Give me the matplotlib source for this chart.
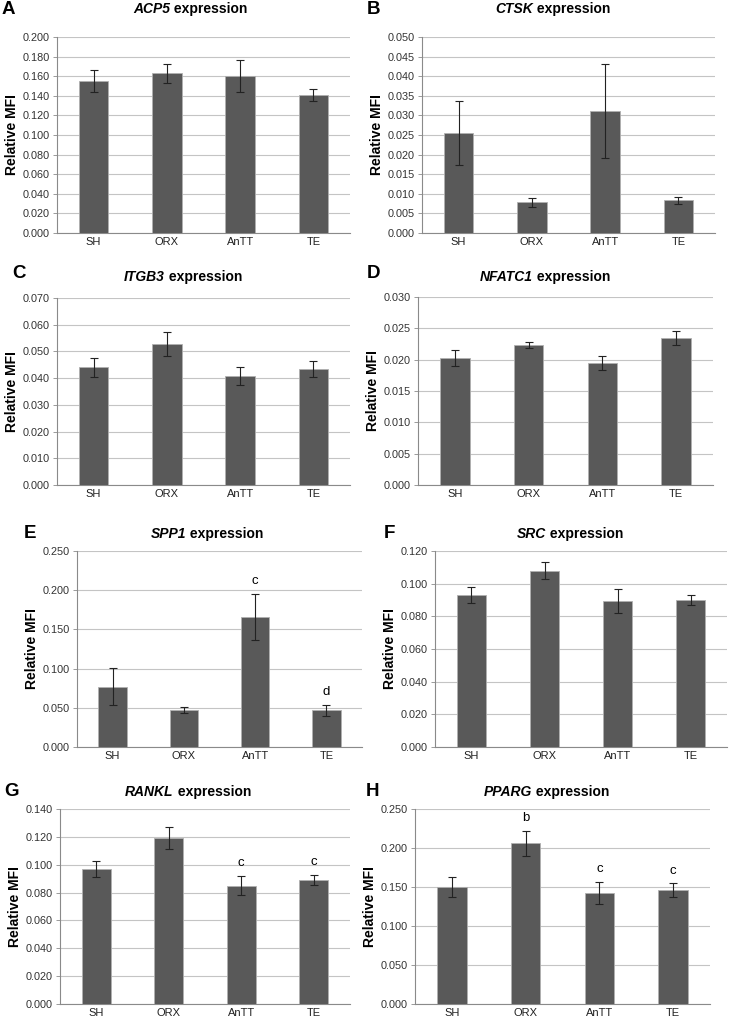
import matplotlib
matplotlib.use("Agg")
import matplotlib.pyplot as plt
import numpy as np

plt.rcParams['font.family'] = ['Liberation Sans', 'DejaVu Sans']

groups = ['SH', 'ORX', 'AnTT', 'TE']

# means and error bar half-widths, one pair per gene
acp5 = [0.155, 0.163, 0.160, 0.141]
acp5_err = [0.0115, 0.0095, 0.0165, 0.006]
ctsk = [0.0255, 0.0078, 0.0311, 0.0083]
ctsk_err = [0.0081, 0.0012, 0.012, 0.001]
itgb3 = [0.0440, 0.0527, 0.0408, 0.0433]
itgb3_err = [0.0037, 0.0045, 0.0035, 0.003]
nfatc1 = [0.0203, 0.0223, 0.0195, 0.0234]
nfatc1_err = [0.0013, 0.0005, 0.0011, 0.0011]
spp1 = [0.077, 0.047, 0.166, 0.047]
spp1_err = [0.0235, 0.004, 0.0295, 0.007]
src = [0.093, 0.108, 0.0895, 0.090]
src_err = [0.005, 0.005, 0.0075, 0.003]
rankl = [0.097, 0.119, 0.085, 0.089]
rankl_err = [0.006, 0.008, 0.007, 0.0037]
pparg = [0.150, 0.206, 0.142, 0.146]
pparg_err = [0.0125, 0.016, 0.014, 0.0085]

spp1_sig = ['', '', 'c', 'd']
rankl_sig = ['', '', 'c', 'c']
pparg_sig = ['', 'b', 'c', 'c']

W, H = 729, 1017
fig = plt.figure(figsize=(W / 100, H / 100), dpi=100)
renderer = fig.canvas.get_renderer()

BAR = '#595959'
GRID = '#c4c4c4'
SPINE = '#8a8a8a'


def two_part_title(cx, cy, gene):
    # italic gene symbol followed by plain bold "expression", centred on cx
    t1 = fig.text(0, 1 - cy / H, gene, fontsize=10, fontweight='bold',
                  fontstyle='italic', ha='left', va='center')
    t2 = fig.text(0, 1 - cy / H, '\u00a0expression', fontsize=10, fontweight='bold',
                  ha='left', va='center')
    w1 = t1.get_window_extent(renderer).width
    w2 = t2.get_window_extent(renderer).width
    start = cx - (w1 + w2) / 2
    t1.set_x(start / W)
    t2.set_x((start + w1) / W)


def add_panel(box, letter, letter_xy, gene, title_xy, vals, errs, ymax, step, sig=None):
    l, r, t, b = box
    ax = fig.add_axes([l / W, 1 - b / H, (r - l) / W, (b - t) / H])
    x = np.arange(len(groups))
    ax.bar(x, vals, width=0.4, color=BAR, edgecolor='#b0b0b0', linewidth=0.6, zorder=3)
    ax.errorbar(x, vals, yerr=errs, fmt='none', ecolor='#222222', elinewidth=0.8,
                capsize=3, capthick=0.8, zorder=4)
    ax.set_xlim(-0.5, len(groups) - 0.5)
    ax.set_ylim(0, ymax)
    ticks = np.arange(0, ymax + step / 2, step)
    ax.set_yticks(ticks)
    ax.set_yticklabels([f'{v:.3f}' for v in ticks], fontsize=7.8, color='#333333')
    ax.set_xticks(x)
    ax.set_xticklabels(groups, fontsize=8, color='#222222')
    ax.tick_params(axis='x', length=0, pad=3)
    ax.tick_params(axis='y', length=3, width=0.6, color=SPINE, pad=2)
    ax.yaxis.grid(True, color=GRID, linewidth=0.8, zorder=0)
    ax.set_axisbelow(True)
    for s in ['top', 'right']:
        ax.spines[s].set_visible(False)
    for s in ['left', 'bottom']:
        ax.spines[s].set_color(SPINE)
        ax.spines[s].set_linewidth(0.8)
    ax.set_ylabel('Relative MFI', fontsize=10, fontweight='bold', labelpad=3)
    if sig:
        for xi, v, e, s in zip(x, vals, errs, sig):
            if s:
                ax.annotate(s, (xi, v + e), xytext=(0, 5), textcoords='offset points',
                            ha='center', va='bottom', fontsize=9.5)
    fig.text(letter_xy[0] / W, 1 - letter_xy[1] / H, letter, fontsize=13.5,
             fontweight='bold', ha='left', va='center')
    two_part_title(title_xy[0], title_xy[1], gene)
    return ax


add_panel((57, 350, 37, 233), 'A', (2, 9), 'ACP5', (190, 9), acp5, acp5_err, 0.200, 0.020)
add_panel((422, 715, 37, 233), 'B', (367, 9), 'CTSK', (553, 9), ctsk, ctsk_err, 0.050, 0.005)
add_panel((57, 350, 298, 485), 'C', (12, 273), 'ITGB3', (183, 277), itgb3, itgb3_err, 0.070, 0.010)
add_panel((418, 713, 297, 485), 'D', (367, 273), 'NFATC1', (545, 277), nfatc1, nfatc1_err, 0.030, 0.005)
add_panel((77, 362, 551, 747), 'E', (24, 534), 'SPP1', (207, 534), spp1, spp1_err, 0.250, 0.050, spp1_sig)
add_panel((435, 727, 551, 747), 'F', (384, 534), 'SRC', (570, 534), src, src_err, 0.120, 0.020)
add_panel((60, 350, 809, 1004), 'G', (4, 792), 'RANKL', (188, 792), rankl, rankl_err, 0.140, 0.020, rankl_sig)
add_panel((415, 710, 809, 1004), 'H', (366, 792), 'PPARG', (547, 792), pparg, pparg_err, 0.250, 0.050, pparg_sig)

fig.savefig('out.png', dpi=100)
